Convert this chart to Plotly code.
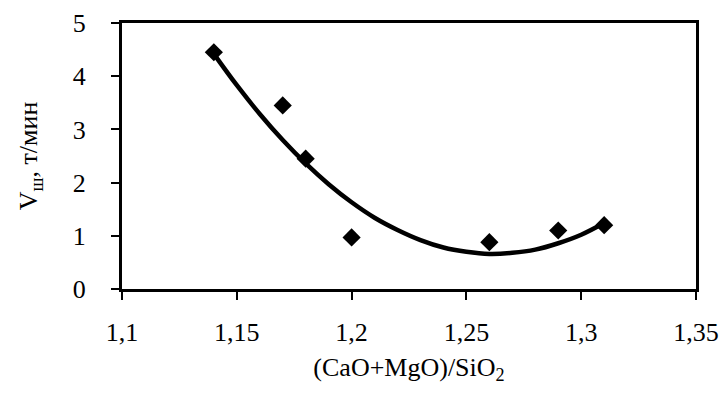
import plotly.graph_objects as go

# measured points
x_pts = [1.14, 1.17, 1.18, 1.20, 1.26, 1.29, 1.31]
y_pts = [4.45, 3.45, 2.45, 0.97, 0.88, 1.10, 1.20]

# trend curve
curve_x = [1.14, 1.15, 1.16, 1.17, 1.18, 1.19, 1.20, 1.21, 1.22, 1.23,
           1.24, 1.25, 1.26, 1.27, 1.28, 1.29, 1.30, 1.31]
curve_y = [4.42, 3.83, 3.29, 2.80, 2.36, 1.97, 1.63, 1.34, 1.11, 0.92,
           0.78, 0.70, 0.66, 0.68, 0.74, 0.86, 1.02, 1.24]

x_ticks = [1.1, 1.15, 1.2, 1.25, 1.3, 1.35]
x_tick_text = ["1,1", "1,15", "1,2", "1,25", "1,3", "1,35"]
y_ticks = [0, 1, 2, 3, 4, 5]

FONT = "Liberation Serif"

fig = go.Figure()
fig.add_trace(go.Scatter(x=curve_x, y=curve_y, mode="lines",
                         line=dict(color="black", width=4.5, shape="spline"),
                         hoverinfo="skip", showlegend=False))
fig.add_trace(go.Scatter(x=x_pts, y=y_pts, mode="markers",
                         marker=dict(symbol="diamond", size=14, color="black"),
                         showlegend=False))

fig.update_layout(
    width=725, height=400,
    margin=dict(l=122, r=29, t=23, b=111, autoexpand=False),
    paper_bgcolor="white", plot_bgcolor="white",
    font=dict(family=FONT, color="black", size=26),
)
fig.update_xaxes(
    range=[1.1, 1.35], tickvals=x_ticks, ticktext=x_tick_text,
    showgrid=False, zeroline=False, automargin=False,
    showline=True, linecolor="black", linewidth=3, mirror=True,
    ticks="outside", ticklen=8, tickwidth=1.5, tickcolor="black",
    tickfont=dict(family=FONT, size=26), ticklabelstandoff=10,
    title=dict(text="(CaO+MgO)/SiO<sub>2</sub>", font=dict(family=FONT, size=26), standoff=12),
)
fig.update_yaxes(
    range=[0, 5], tickvals=y_ticks,
    showgrid=False, zeroline=False, automargin=False,
    showline=True, linecolor="black", linewidth=3, mirror=True,
    ticks="outside", ticklen=8, tickwidth=1.5, tickcolor="black",
    tickfont=dict(family=FONT, size=26), ticklabelstandoff=20,
    title=dict(text="V<sub>ш</sub>, т/мин", font=dict(family=FONT, size=26), standoff=28),
)

fig.write_html("out.html", config={"displayModeBar": False},
               post_script="document.body.style.margin='0';")
